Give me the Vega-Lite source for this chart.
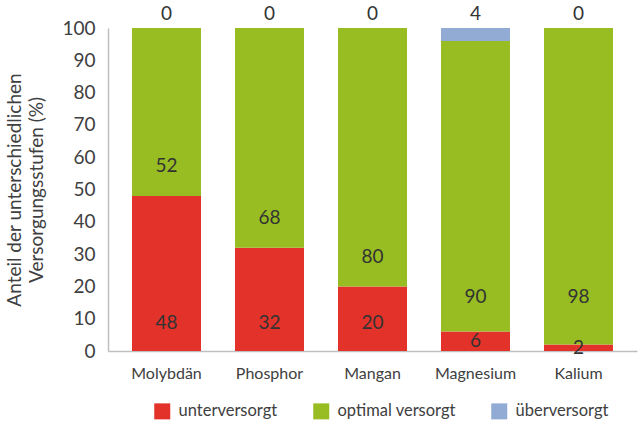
{
  "$schema": "https://vega.github.io/schema/vega-lite/v6.json",
  "autosize": {"type": "none"},
  "width": 529,
  "height": 323,
  "padding": {"left": 108, "top": 28, "right": 2, "bottom": 71},
  "background": "white",
  "config": {
    "font": "Lato",
    "view": {"stroke": null},
    "axisY": {
      "labelOverlap": false,
      "grid": false,
      "ticks": false,
      "domainColor": "#bfbfbf",
      "domainWidth": 1.5,
      "labelFontSize": 19,
      "labelColor": "#404040",
      "labelPadding": 13,
      "titleFontSize": 19,
      "titleFontWeight": "normal",
      "titleColor": "#404040",
      "titleLineHeight": 22,
      "titlePadding": 15
    }
  },
  "data": {
    "values": [
      {"Element": "Molybdän", "Stufe": "unterversorgt", "Anteil": 48},
      {"Element": "Molybdän", "Stufe": "optimal versorgt", "Anteil": 52},
      {"Element": "Molybdän", "Stufe": "überversorgt", "Anteil": 0},
      {"Element": "Phosphor", "Stufe": "unterversorgt", "Anteil": 32},
      {"Element": "Phosphor", "Stufe": "optimal versorgt", "Anteil": 68},
      {"Element": "Phosphor", "Stufe": "überversorgt", "Anteil": 0},
      {"Element": "Mangan", "Stufe": "unterversorgt", "Anteil": 20},
      {"Element": "Mangan", "Stufe": "optimal versorgt", "Anteil": 80},
      {"Element": "Mangan", "Stufe": "überversorgt", "Anteil": 0},
      {"Element": "Magnesium", "Stufe": "unterversorgt", "Anteil": 6},
      {"Element": "Magnesium", "Stufe": "optimal versorgt", "Anteil": 90},
      {"Element": "Magnesium", "Stufe": "überversorgt", "Anteil": 4},
      {"Element": "Kalium", "Stufe": "unterversorgt", "Anteil": 2},
      {"Element": "Kalium", "Stufe": "optimal versorgt", "Anteil": 98},
      {"Element": "Kalium", "Stufe": "überversorgt", "Anteil": 0}
    ]
  },
  "transform": [
    {"calculate": "indexof(['unterversorgt','optimal versorgt','überversorgt'], datum.Stufe)", "as": "ord"},
    {"stack": "Anteil", "groupby": ["Element"], "sort": [{"field": "ord", "order": "ascending"}], "as": ["y0", "y1"]},
    {"calculate": "datum.ord == 0 ? (datum.Anteil >= 18 ? 8.8 : datum.Anteil / 2) : (datum.ord == 1 ? max(datum.y0 + 9.2, 16.8) : 104.3)", "as": "labelY"}
  ],
  "encoding": {
    "x": {
      "field": "Element",
      "type": "nominal",
      "sort": ["Molybdän", "Phosphor", "Mangan", "Magnesium", "Kalium"],
      "scale": {"paddingInner": 0.33, "paddingOuter": 0.233},
      "axis": {
        "title": null,
        "labelAngle": 0,
        "ticks": false,
        "domainColor": "#bfbfbf",
        "domainWidth": 1.5,
        "labelFontSize": 16,
        "labelColor": "#404040",
        "labelPadding": 14
      }
    }
  },
  "layer": [
    {
      "mark": {"type": "bar"},
      "encoding": {
        "y": {
          "field": "y0",
          "type": "quantitative",
          "scale": {"domain": [0, 100]},
          "axis": {
            "title": ["Anteil der unterschiedlichen", "Versorgungsstufen (%)"],
            "values": [0, 10, 20, 30, 40, 50, 60, 70, 80, 90, 100],
            "tickCount": 11
          }
        },
        "y2": {"field": "y1"},
        "color": {
          "field": "Stufe",
          "type": "nominal",
          "scale": {
            "domain": ["unterversorgt", "optimal versorgt", "überversorgt"],
            "range": ["#e3322a", "#97bd22", "#91abd4"]
          },
          "legend": {
            "title": null,
            "orient": "none",
            "legendX": 46,
            "legendY": 375,
            "direction": "horizontal",
            "symbolType": "square",
            "symbolSize": 256,
            "symbolStrokeWidth": 0,
            "labelFontSize": 16.5,
            "labelColor": "#404040",
            "labelOffset": 8,
            "columnPadding": 35,
            "padding": 0
          }
        }
      }
    },
    {
      "mark": {"type": "text", "fontSize": 19, "color": "#333333", "baseline": "middle"},
      "encoding": {
        "y": {
          "field": "labelY",
          "type": "quantitative",
          "axis": {
            "title": ["Anteil der unterschiedlichen", "Versorgungsstufen (%)"],
            "values": [0, 10, 20, 30, 40, 50, 60, 70, 80, 90, 100],
            "tickCount": 11
          }
        },
        "text": {"field": "Anteil", "type": "quantitative"}
      }
    }
  ]
}
